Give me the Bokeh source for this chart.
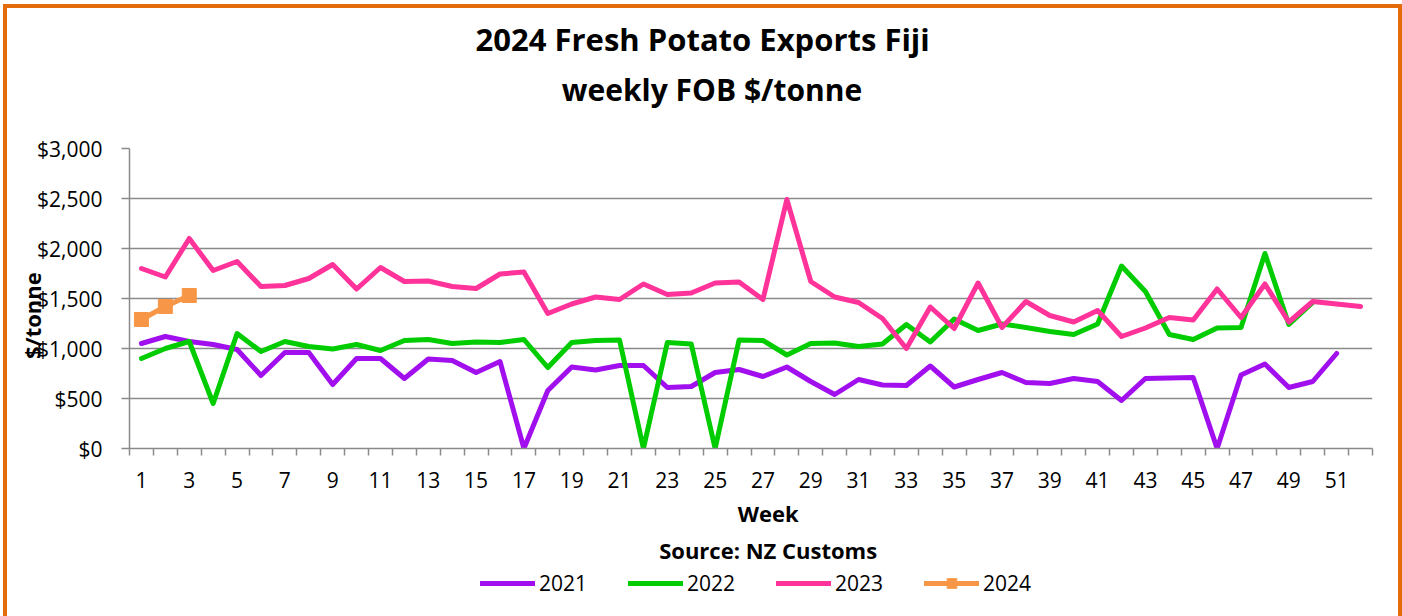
from bokeh.plotting import figure
from bokeh.layouts import column
from bokeh.models import Range1d, FixedTicker, NumeralTickFormatter, Title, Legend, LegendItem
from bokeh.embed import file_html
from bokeh.resources import INLINE

# ---- data ----
weeks_2021 = list(range(1, 52))
fob_2021 = [1050, 1120, 1070, 1040, 990, 730, 960, 960, 640, 900,
            900, 700, 895, 880, 760, 870, 0, 580, 815, 785,
            830, 830, 610, 620, 760, 790, 720, 815, 670, 540,
            690, 635, 630, 825, 615, 690, 760, 660, 650, 700,
            670, 480, 700, 705, 710, 0, 735, 845, 610, 670,
            950]

weeks_2022 = list(range(1, 51))
fob_2022 = [900, 1000, 1070, 450, 1150, 970, 1070, 1020, 995, 1040,
            980, 1080, 1090, 1050, 1065, 1060, 1090, 810, 1060, 1080,
            1085, 0, 1060, 1045, 0, 1085, 1080, 935, 1050, 1055,
            1020, 1045, 1240, 1065, 1295, 1180, 1245, 1210, 1170, 1140,
            1245, 1825, 1570, 1140, 1090, 1205, 1210, 1950, 1240, 1460]

weeks_2023 = list(range(1, 53))
fob_2023 = [1800, 1715, 2100, 1780, 1870, 1620, 1630, 1700, 1840, 1595,
            1810, 1670, 1675, 1620, 1600, 1745, 1765, 1350, 1445, 1515,
            1490, 1645, 1540, 1555, 1655, 1665, 1490, 2490, 1670, 1515,
            1460, 1300, 1000, 1415, 1200, 1655, 1210, 1470, 1330, 1265,
            1380, 1120, 1205, 1310, 1285, 1595, 1310, 1645, 1265, 1470,
            1445, 1420]

weeks_2024 = [1, 2, 3]
fob_2024 = [1290, 1420, 1530]

week_tick_labels = list(range(1, 52, 2))
y_ticks = [0, 500, 1000, 1500, 2000, 2500, 3000]

series_names = ["2021", "2022", "2023", "2024"]
series_colors = ["#A20FEF", "#00CC00", "#FF3399", "#F79646"]

title_line1 = "2024 Fresh Potato Exports Fiji"
title_line2 = "weekly FOB $/tonne"
x_title = "Week"
source_text = "Source: NZ Customs"
y_title = "$/tonne"

FONT = "Open Sans"
GRID = "#8A8A8A"
BORDER = "#E46C0A"
NB = "\u00a0"

p = figure(width=1391, height=560, output_backend="svg", toolbar_location=None,
           title=None, x_range=Range1d(0.5, 52.5), y_range=Range1d(0, 3000),
           min_border_left=122, min_border_right=26, min_border_top=140,
           min_border_bottom=120)
p.outline_line_color = None
p.background_fill_color = "white"
p.border_fill_color = "white"

# x axis: labels on odd weeks, tick marks between categories
xa = p.xaxis[0]
xa.ticker = FixedTicker(ticks=week_tick_labels,
                        minor_ticks=[w + 0.5 for w in range(0, 53)])
xa.major_tick_out = 0
xa.major_tick_in = 0
xa.minor_tick_out = 7
xa.minor_tick_in = 0
xa.minor_tick_line_color = GRID
xa.minor_tick_line_width = 1.5
xa.axis_line_color = GRID
xa.axis_line_width = 1.5
xa.major_label_text_font = FONT
xa.major_label_text_font_size = "21px"
xa.major_label_text_color = "black"
xa.major_label_standoff = 16

# y axis
ya = p.yaxis[0]
ya.ticker = FixedTicker(ticks=y_ticks)
ya.formatter = NumeralTickFormatter(format="$0,0")
ya.major_tick_out = 8
ya.major_tick_in = 0
ya.minor_tick_line_color = None
ya.major_tick_line_color = GRID
ya.major_tick_line_width = 1.5
ya.axis_line_color = GRID
ya.axis_line_width = 1.5
ya.major_label_text_font = FONT
ya.major_label_text_font_size = "21px"
ya.major_label_text_color = "black"
ya.major_label_standoff = 19
ya.axis_label = y_title + NB * 6
ya.axis_label_text_font = FONT
ya.axis_label_text_font_size = "22px"
ya.axis_label_text_font_style = "bold"
ya.axis_label_text_color = "black"
ya.axis_label_standoff = -13

p.xgrid.grid_line_color = None
p.ygrid.grid_line_color = GRID
p.ygrid.grid_line_width = 1.5
p.ygrid.ticker = FixedTicker(ticks=y_ticks)

# series
line_kw = dict(line_width=5, line_join="round", line_cap="round")
r21 = p.line(weeks_2021, fob_2021, line_color=series_colors[0], **line_kw)
r22 = p.line(weeks_2022, fob_2022, line_color=series_colors[1], **line_kw)
r23 = p.line(weeks_2023, fob_2023, line_color=series_colors[2], **line_kw)
r24 = p.line(weeks_2024, fob_2024, line_color=series_colors[3], **line_kw)
r24m = p.scatter(weeks_2024, fob_2024, marker="square", size=14,
                 fill_color=series_colors[3], line_color=series_colors[3])

# titles above (added nearest-first): invisible spacer, line 2, line 1
p.add_layout(Title(text=NB, text_font=FONT, text_font_size="1px", standoff=36),
             "above")
p.add_layout(Title(text=title_line2 + NB * 10, align="center", text_font=FONT,
                   text_font_size="30px", text_font_style="bold",
                   text_color="black", standoff=0), "above")
p.add_layout(Title(text=title_line1 + NB * 12, align="center", text_font=FONT,
                   text_font_size="31px", text_font_style="bold",
                   text_color="black", standoff=14), "above")

# texts below the axis
p.add_layout(Title(text=NB * 6 + x_title, align="center", text_font=FONT,
                   text_font_size="22px", text_font_style="bold",
                   text_color="black", standoff=11), "below")
p.add_layout(Title(text=NB * 6 + source_text, align="center", text_font=FONT,
                   text_font_size="22px", text_font_style="bold",
                   text_color="black", standoff=-1), "below")

# legend strip: a small companion figure whose view shows none of the data,
# so that only its legend is visible (and nothing is clipped)
q = figure(width=1391, height=48, output_backend="svg", toolbar_location=None,
           title=None, x_range=Range1d(100, 101), y_range=Range1d(0, 1),
           x_axis_type=None, y_axis_type=None, min_border=0)
q.outline_line_color = None
q.xgrid.grid_line_color = None
q.ygrid.grid_line_color = None
q.border_fill_color = "white"
l21 = q.line(weeks_2021, fob_2021, line_color=series_colors[0], **line_kw)
l22 = q.line(weeks_2022, fob_2022, line_color=series_colors[1], **line_kw)
l23 = q.line(weeks_2023, fob_2023, line_color=series_colors[2], **line_kw)
l24 = q.line(weeks_2024, fob_2024, line_color=series_colors[3], **line_kw)
l24m = q.scatter(weeks_2024, fob_2024, marker="square", size=14,
                 fill_color=series_colors[3], line_color=series_colors[3])

legend = Legend(items=[LegendItem(label=series_names[0], renderers=[l21]),
                       LegendItem(label=series_names[1], renderers=[l22]),
                       LegendItem(label=series_names[2], renderers=[l23]),
                       LegendItem(label=series_names[3], renderers=[l24, l24m])],
                orientation="horizontal", location=(351, 19),
                padding=0, margin=0, spacing=38, glyph_width=55, glyph_height=24,
                label_height=24, label_width=51, label_standoff=4,
                border_line_color=None, background_fill_alpha=0,
                label_text_font=FONT, label_text_font_size="21px",
                label_text_color="black")
q.add_layout(legend, "center")

layout = column(p, q, spacing=0)
layout.styles = {"margin-left": "7px", "margin-top": "8px",
                 "box-shadow": (f"-4px 0 0 0 {BORDER}, 4px 0 0 0 {BORDER}, "
                                f"0 -4px 0 0 {BORDER}, -4px -4px 0 0 {BORDER}, "
                                f"4px -4px 0 0 {BORDER}")}

open("out.html", "w").write(file_html(layout, INLINE))
